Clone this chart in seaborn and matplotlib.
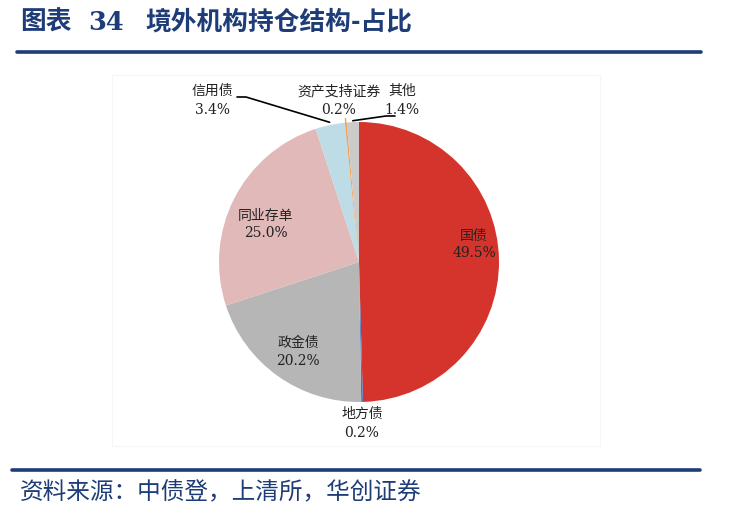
import numpy as np
import pandas as pd
import matplotlib
matplotlib.use("Agg")
import matplotlib.pyplot as plt
import seaborn as sns
from matplotlib.patches import Rectangle
from matplotlib.lines import Line2D

categories = ["国债", "地方债", "政金债", "同业存单", "信用债", "资产支持证券", "其他"]
shares = [49.5, 0.2, 20.2, 25.0, 3.4, 0.2, 1.4]
colors = ["#D5342C", "#4472C4", "#B6B6B6", "#E1B9B9", "#BEDCE6", "#F0A050", "#CBCBCB"]
pct_labels = ["49.5%", "0.2%", "20.2%", "25.0%", "3.4%", "0.2%", "1.4%"]

df = pd.DataFrame({"cat": categories, "share": shares, "color": colors, "pct": pct_labels})

sns.set_theme(style="white")
plt.rcParams["font.family"] = ["Noto Sans CJK SC", "DejaVu Sans"]

W, H = 735, 515
fig = plt.figure(figsize=(W / 100, H / 100), dpi=100)
fig.patch.set_facecolor("white")

def fx(px):
    return px / W

def fy(py):
    return 1 - py / H

navy = "#1E3C78"

# title
fig.text(fx(20), fy(22), "图表", fontsize=18.5, fontweight="bold", color=navy, va="center", ha="left")
fig.text(fx(88), fy(22), "34", fontsize=18.5, fontweight="bold", color=navy, va="center", ha="left",
         family=["DejaVu Serif"])
fig.text(fx(145), fy(22), "境外机构持仓结构-占比", fontsize=18.5, fontweight="bold",
         color=navy, va="center", ha="left")
fig.add_artist(Line2D([fx(17), fx(701)], [fy(52), fy(52)], color=navy, lw=2.6))
# bottom rule + source
fig.add_artist(Line2D([fx(12), fx(700)], [fy(470), fy(470)], color=navy, lw=2.6))
fig.text(fx(20), fy(493), "资料来源：中债登，上清所，华创证券", fontsize=17, style="italic",
         color=navy, va="center", ha="left")

# faint chart frame
fig.add_artist(Rectangle((fx(112), fy(446)), fx(600) - fx(112), fy(75) - fy(446),
                         transform=fig.transFigure, fill=False, edgecolor="#F6F6F6", lw=0.8))

# pie axes
cx, cy, r = 359, 262, 140
ax = fig.add_axes([fx(cx - r), fy(cy + r), 2 * r / W, 2 * r / H])
wedges, _ = ax.pie(df["share"], colors=df["color"], startangle=90, counterclock=False,
                   radius=1, wedgeprops=dict(linewidth=0))
ax.set_xlim(-1, 1)
ax.set_ylim(-1, 1)
ax.set_aspect("auto")
ax.axis("off")

def dx(px):
    return (px - cx) / r

def dy(py):
    return (cy - py) / r

lab_fs = 10
label_pos = {
    "国债": (474, 236, 253),
    "地方债": (362, 414, 433),
    "政金债": (298, 343, 361),
    "同业存单": (266, 216, 233),
    "信用债": (212, 91, 110),
    "资产支持证券": (339, 91, 110),
    "其他": (402, 91, 110),
}
for _, row in df.iterrows():
    px, py1, py2 = label_pos[row["cat"]]
    ax.text(dx(px), dy(py1), row["cat"], fontsize=lab_fs, ha="center", va="center",
            color="#222222", clip_on=False)
    ax.text(dx(px), dy(py2), row["pct"], fontsize=lab_fs, ha="center", va="center",
            color="#222222", clip_on=False, family=["DejaVu Serif"])

# leader lines
def wedge_edge_point(i):
    w = wedges[i]
    ang = np.deg2rad((w.theta1 + w.theta2) / 2)
    return np.cos(ang), np.sin(ang)

ex, ey = wedge_edge_point(4)
ax.plot([dx(237), dx(246), ex * 1.02], [dy(97), dy(97), ey * 1.02], color="black", lw=1.2, clip_on=False)
ex, ey = wedge_edge_point(5)
ax.plot([ex * 1.0, ex * 1.03], [ey * 1.0, ey * 1.03], color="#F0A050", lw=1.0, clip_on=False)
ex, ey = wedge_edge_point(6)
ax.plot([ex * 1.01, dx(386), dx(395)], [ey * 1.01, dy(116), dy(116)], color="black", lw=1.2, clip_on=False)

fig.savefig("out.png", dpi=100, facecolor="white")
